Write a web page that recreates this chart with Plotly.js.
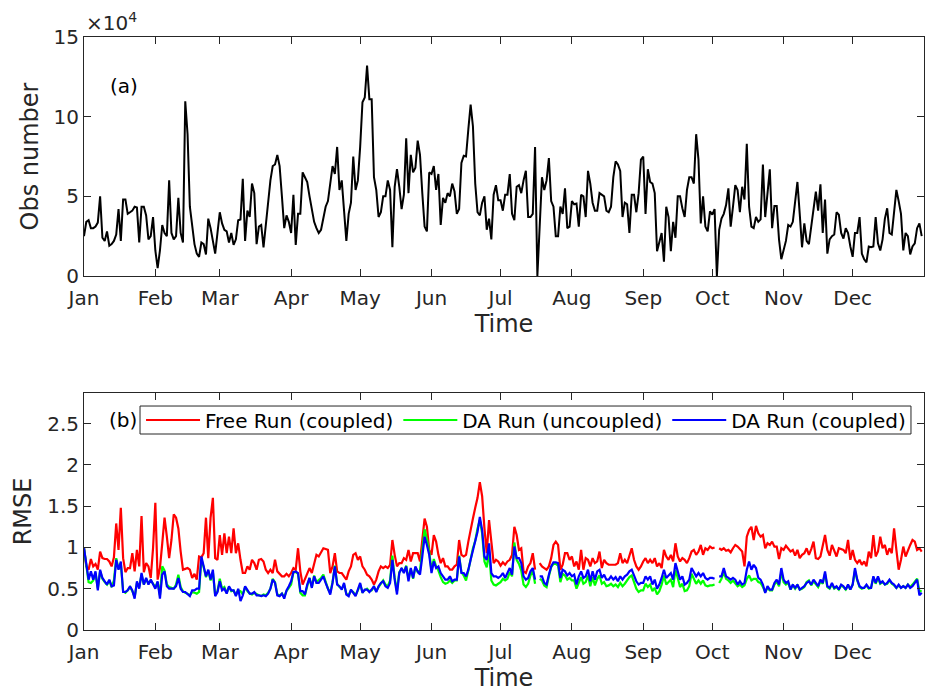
<!DOCTYPE html>
<html>
<head>
<meta charset="utf-8">
<script src="https://cdn.plot.ly/plotly-3.0.1.min.js"></script>
<style>
  html, body { margin: 0; padding: 0; background: #ffffff; }
  #chart { width: 925px; height: 692px; }
</style>
</head>
<body>
<div id="chart"></div>
<script>
// ---------------- data ----------------
const monthLabels = ['Jan','Feb','Mar','Apr','May','Jun','Jul','Aug','Sep','Oct','Nov','Dec'];
const monthStarts = ['2015-01-01','2015-02-01','2015-03-01','2015-04-01','2015-05-01','2015-06-01',
                     '2015-07-01','2015-08-01','2015-09-01','2015-10-01','2015-11-01','2015-12-01'];
const startDate = '2015-01-01';

// Daily observation number (units of 10^4)
const obsNumber = [
2.5,3.4,3.5,3.0,3.0,3.1,3.35,5.0,2.4,2.2,
2.8,1.9,2.0,2.2,2.6,4.2,2.2,4.8,4.8,3.9,
4.0,4.1,4.35,4.3,2.1,4.35,4.35,3.8,2.3,2.5,
3.7,1.6,0.5,1.6,3.2,2.7,2.5,6.0,2.7,2.3,
2.5,4.9,2.7,2.1,10.96,8.9,4.35,3.1,2.0,1.4,
1.2,2.1,2.0,1.35,3.6,3.0,2.05,1.4,2.7,4.0,
3.3,2.9,2.8,2.1,2.7,1.95,2.3,3.5,3.55,6.1,
2.2,4.1,3.7,5.8,5.2,2.0,3.1,3.2,1.8,3.2,
4.5,6.0,6.9,7.0,7.6,6.9,5.0,3.0,3.8,3.4,
2.7,5.1,1.95,3.9,3.9,6.5,6.2,5.9,5.0,4.1,
3.4,3.0,2.7,2.9,3.6,4.35,4.7,5.8,6.9,6.4,
8.1,5.4,6.0,4.1,2.2,3.9,4.6,7.5,5.4,6.0,
8.1,10.9,11.2,13.2,11.1,11.1,6.2,5.4,3.7,4.0,
5.0,5.0,6.0,5.4,1.8,5.6,6.7,5.6,4.2,5.1,
8.65,5.2,7.6,6.5,6.8,8.5,7.6,5.2,3.1,2.8,
6.5,6.4,6.9,5.4,6.4,3.2,4.9,4.6,5.2,5.0,
5.8,5.3,3.9,4.2,7.1,7.55,7.5,9.2,10.75,9.4,
5.8,4.0,3.8,4.6,5.0,2.9,3.6,2.3,5.1,5.7,
4.75,4.75,4.1,5.1,5.1,6.4,3.9,3.5,5.6,5.7,
5.2,6.0,6.6,3.7,3.7,3.9,8.1,0.0,2.7,6.2,
5.4,6.0,7.4,4.7,4.35,2.5,2.5,4.35,3.9,5.5,
3.0,3.1,4.7,4.5,4.55,3.1,5.1,5.0,3.7,6.6,
5.8,4.6,4.1,4.1,5.2,5.1,5.0,4.1,4.0,4.35,
6.2,7.2,7.0,6.6,3.7,4.6,4.5,2.7,5.1,5.1,
4.0,5.2,7.3,7.5,3.9,6.7,5.9,5.8,5.2,1.55,
2.2,2.7,0.9,4.35,3.7,1.55,3.4,2.4,5.0,5.0,
4.25,3.7,5.4,6.2,6.2,5.8,8.9,7.3,3.3,5.0,
3.1,2.8,4.05,3.85,4.2,0.0,2.9,3.6,3.9,4.45,
5.5,3.1,4.35,5.7,5.4,4.0,5.6,4.8,8.3,4.35,
3.1,3.0,3.7,3.4,3.55,7.0,3.7,5.0,6.7,3.0,
4.4,4.4,2.3,1.05,1.6,2.2,3.2,3.1,3.4,4.7,
5.9,3.9,1.8,3.3,2.2,2.0,3.1,4.35,5.3,4.1,
5.75,2.7,4.8,1.4,2.3,2.5,2.6,4.0,3.85,2.7,
2.35,3.0,2.7,1.85,1.2,2.7,2.7,3.7,1.4,1.05,
0.85,1.85,1.8,1.85,3.7,2.05,1.6,2.3,3.6,4.25,
2.7,2.6,4.1,5.4,4.7,3.9,1.6,2.7,2.5,1.35,
1.85,2.05,3.0,3.3,2.5
];

// Daily RMSE, Free Run (coupled)
const rmseFreeRun = [
0.99,0.77,0.73,0.86,0.77,0.80,0.73,0.95,0.87,0.86,
0.86,0.83,0.77,0.88,1.29,0.97,1.48,0.87,0.70,0.75,
0.75,0.93,0.71,0.97,0.77,1.38,0.70,0.81,0.77,0.63,
0.99,1.54,0.61,0.75,1.05,1.36,1.13,0.87,1.09,1.40,
1.36,1.23,0.95,0.73,0.74,0.75,0.73,0.63,0.68,0.61,
0.89,0.88,0.93,1.36,0.87,1.36,1.60,0.87,0.85,1.15,
0.91,1.17,0.93,1.13,0.93,1.23,0.93,1.05,0.85,0.69,
0.69,0.77,0.73,0.85,0.81,0.73,0.85,0.86,0.83,0.73,
0.69,0.73,0.69,0.85,0.71,0.68,0.65,0.65,0.68,0.65,
0.69,0.75,
0.73,0.99,0.71,0.55,0.61,0.69,0.75,0.69,0.79,0.91,
0.89,0.95,0.99,0.98,0.97,0.69,0.77,0.93,0.71,0.69,
0.69,0.65,0.61,0.71,0.77,0.91,0.93,0.85,0.89,0.77,
0.73,0.67,0.65,0.61,0.55,0.61,0.71,0.77,0.75,0.77,
0.75,0.79,1.09,0.91,0.77,0.81,0.81,0.87,0.85,0.97,
0.83,0.93,0.93,0.93,0.83,1.09,1.35,1.25,0.97,0.91,
1.15,1.07,0.91,0.81,0.87,0.77,0.77,0.73,0.73,0.77,
0.79,1.09,0.91,0.89,0.91,1.07,1.23,1.35,1.48,1.60,
1.79,1.62,1.23,0.93,1.33,1.09,0.81,0.85,0.83,0.78,
0.82,
0.79,0.83,0.85,0.91,1.25,1.15,0.97,0.99,0.71,0.69,0.77,0.81,0.93,0.73,
null,
0.81,0.77,0.75,0.73,0.77,0.87,1.03,1.07,1.03,0.73,
0.79,0.93,0.93,0.85,0.89,0.77,0.83,0.73,0.97,0.73,
0.87,0.85,0.77,0.87,0.81,0.83,0.95,0.75,0.85,0.81,
0.79,0.79,0.79,0.79,0.81,0.93,0.81,0.85,0.81,0.91,
0.99,0.85,0.77,0.73,0.77,0.83,0.87,0.81,0.85,0.81,
0.87,0.77,0.81,0.75,0.97,0.89,0.85,0.91,0.83,1.05,
0.89,0.83,0.87,0.85,0.81,0.87,0.95,0.97,0.91,0.95,
1.03,0.91,0.99,0.97,1.01,0.99,
1.00,
null,
0.99,0.97,0.99,0.96,0.97,0.94,0.99,1.03,1.01,0.98,
0.95,0.77,1.13,1.21,1.25,1.09,1.26,1.17,1.13,1.15,
0.99,1.05,1.03,1.07,1.01,1.01,0.86,0.99,0.97,1.02,
0.99,0.95,0.97,0.90,0.97,0.87,0.91,0.93,0.99,0.91,
0.98,1.07,0.87,0.86,0.89,1.02,1.15,0.97,0.90,1.03,
0.97,0.89,0.99,0.98,0.97,0.93,1.09,0.85,0.97,0.85,
0.81,0.85,0.79,0.83,0.77,0.95,0.87,1.15,0.89,0.95,
1.13,0.99,1.03,0.91,0.99,0.93,1.23,0.97,0.73,0.85,
1.01,0.89,0.97,1.03,1.09,1.07,0.97,0.99,
0.95
];

// Daily RMSE, DA Run (uncoupled)
const rmseDAUncoupled = [
0.99,0.75,0.58,0.57,0.60,0.69,0.50,0.71,0.62,0.58,
0.55,0.60,0.52,0.60,0.87,0.74,0.80,0.47,0.45,0.48,
0.52,0.47,0.40,0.57,0.52,0.67,0.55,0.62,0.56,0.60,
0.56,0.52,0.58,0.42,0.77,0.72,0.55,0.52,0.51,0.50,
0.55,0.67,0.52,0.47,0.45,0.44,0.42,0.46,0.45,0.44,
0.46,0.86,0.76,0.64,0.72,0.60,0.70,0.42,0.47,0.62,
0.50,0.52,0.45,0.52,0.47,0.48,0.42,0.48,0.47,0.43,
0.52,0.47,0.44,0.43,0.45,0.43,0.42,0.41,0.43,0.42,
0.45,0.50,0.62,0.58,0.43,0.42,0.44,0.40,0.47,0.51,
0.55,0.70,
0.70,0.68,0.45,0.42,0.42,0.53,0.63,0.52,0.66,0.58,
0.60,0.63,0.67,0.58,0.50,0.45,0.58,0.78,0.56,0.52,
0.50,0.55,0.44,0.42,0.48,0.46,0.42,0.48,0.55,0.46,
0.48,0.50,0.47,0.48,0.52,0.47,0.52,0.56,0.60,0.55,
0.53,0.60,0.90,0.63,0.47,0.70,0.74,0.70,0.78,0.62,
0.74,0.62,0.76,0.70,0.72,0.97,1.22,1.10,0.95,0.72,
0.86,0.77,0.72,0.64,0.58,0.56,0.57,0.60,0.57,0.60,
0.60,0.90,0.70,0.66,0.60,0.72,0.86,0.99,1.08,1.23,
1.33,1.17,0.83,0.76,0.95,0.60,0.55,0.54,0.56,0.58,
0.62,
0.60,0.62,0.70,0.65,1.06,0.85,0.80,0.72,0.55,0.52,0.56,0.66,0.72,0.56,
null,
0.62,0.60,0.54,0.52,0.65,0.76,0.80,0.80,0.78,0.58,
0.68,0.66,0.61,0.63,0.60,0.60,0.50,0.58,0.64,0.56,
0.58,0.66,0.53,0.64,0.54,0.62,0.66,0.56,0.58,0.53,
0.54,0.56,0.53,0.55,0.52,0.57,0.53,0.56,0.60,0.64,
0.66,0.57,0.50,0.46,0.48,0.48,0.56,0.52,0.55,0.47,
0.51,0.43,0.47,0.55,0.66,0.55,0.58,0.61,0.52,0.73,
0.63,0.52,0.56,0.47,0.48,0.53,0.68,0.61,0.56,0.60,
0.56,0.60,0.54,0.53,0.54,0.54,
0.55,
null,
0.57,0.62,0.70,0.62,0.60,0.57,0.60,0.57,0.53,0.55,
0.52,0.54,0.62,0.66,0.60,0.62,0.62,0.58,0.57,0.52,
0.46,0.51,0.48,0.48,0.55,0.59,0.53,0.70,0.58,0.55,
0.57,0.49,0.54,0.50,0.54,0.49,0.50,0.52,0.58,0.60,
0.54,0.59,0.56,0.52,0.59,0.56,0.68,0.52,0.50,0.55,
0.50,0.52,0.49,0.54,0.52,0.49,0.54,0.49,0.55,0.72,
0.60,0.52,0.50,0.51,0.54,0.50,0.51,0.64,0.56,0.63,
0.56,0.58,0.55,0.56,0.60,0.56,0.54,0.51,0.54,0.51,
0.53,0.51,0.55,0.52,0.55,0.59,0.62,0.47,
0.47
];

// Daily RMSE, DA Run (coupled)
const rmseDACoupled = [
0.99,0.77,0.61,0.71,0.61,0.71,0.48,0.73,0.63,0.59,
0.55,0.61,0.53,0.54,0.85,0.73,0.83,0.46,0.46,0.48,
0.53,0.48,0.38,0.59,0.50,0.69,0.55,0.63,0.55,0.61,
0.55,0.50,0.59,0.38,0.67,0.71,0.53,0.50,0.50,0.50,
0.53,0.63,0.50,0.46,0.46,0.44,0.41,0.48,0.48,0.50,
0.50,0.89,0.77,0.65,0.73,0.61,0.73,0.41,0.46,0.59,
0.48,0.50,0.44,0.53,0.48,0.48,0.41,0.50,0.35,0.42,
0.53,0.48,0.44,0.44,0.46,0.42,0.42,0.41,0.42,0.41,
0.44,0.50,0.61,0.57,0.42,0.41,0.44,0.38,0.48,0.53,
0.59,0.70,
0.71,0.69,0.47,0.47,0.43,0.55,0.63,0.51,0.65,0.57,
0.57,0.61,0.65,0.57,0.49,0.43,0.57,0.77,0.55,0.53,
0.49,0.57,0.43,0.41,0.49,0.45,0.41,0.49,0.57,0.45,
0.49,0.49,0.46,0.49,0.53,0.46,0.53,0.57,0.59,0.53,
0.51,0.57,0.85,0.61,0.43,0.69,0.75,0.69,0.77,0.59,
0.75,0.63,0.77,0.71,0.67,0.89,1.13,1.03,0.91,0.69,
0.83,0.75,0.77,0.69,0.65,0.61,0.61,0.65,0.59,0.61,
0.61,0.89,0.69,0.69,0.65,0.73,0.85,0.97,1.05,1.19,
1.37,1.21,0.89,0.85,1.05,0.69,0.65,0.65,0.63,0.65,
0.69,
0.63,0.69,0.75,0.67,1.01,0.87,0.87,0.81,0.65,0.61,0.63,0.71,0.75,0.61,
null,
0.65,0.65,0.57,0.55,0.67,0.77,0.82,0.82,0.81,0.63,
0.73,0.71,0.66,0.69,0.65,0.67,0.55,0.65,0.71,0.63,
0.65,0.73,0.59,0.71,0.61,0.71,0.73,0.63,0.67,0.61,
0.61,0.65,0.61,0.64,0.59,0.65,0.61,0.65,0.67,0.71,
0.73,0.65,0.59,0.55,0.57,0.57,0.65,0.61,0.65,0.55,
0.61,0.50,0.55,0.63,0.73,0.63,0.66,0.69,0.61,0.81,
0.71,0.61,0.65,0.55,0.57,0.61,0.75,0.69,0.65,0.69,
0.65,0.69,0.63,0.61,0.63,0.63,
0.62,
null,
0.65,0.65,0.75,0.65,0.63,0.61,0.63,0.61,0.55,0.59,
0.55,0.57,0.73,0.83,0.73,0.79,0.75,0.63,0.61,0.55,
0.45,0.53,0.49,0.49,0.57,0.61,0.55,0.75,0.61,0.57,
0.59,0.49,0.55,0.51,0.55,0.49,0.51,0.53,0.57,0.59,
0.55,0.61,0.57,0.53,0.61,0.57,0.71,0.53,0.51,0.57,
0.51,0.53,0.49,0.55,0.53,0.49,0.55,0.49,0.55,0.75,
0.61,0.53,0.51,0.51,0.55,0.51,0.51,0.65,0.57,0.65,
0.57,0.59,0.55,0.57,0.61,0.57,0.55,0.51,0.55,0.51,
0.53,0.51,0.55,0.51,0.53,0.57,0.61,0.42,
0.45
];

const seriesNames = ['Free Run (coupled)', 'DA Run (uncoupled)', 'DA Run (coupled)'];
const seriesColors = ['#ff0000', '#00ff00', '#0000ff'];
const obsTicks = [0, 5, 10, 15];
const rmseTicks = [0, 0.5, 1, 1.5, 2, 2.5];
const rmseTickText = ['0', '0.5', '1', '1.5', '2', '2.5'];

// ---------------- build ----------------
function dayDates(n) {
  const out = [];
  const t0 = Date.parse(startDate + 'T00:00:00Z');
  for (let i = 0; i < n; i++) {
    const d = new Date(t0 + i * 86400000);
    out.push(d.toISOString().slice(0, 10));
  }
  return out;
}

const axisColor = '#262626';
const tickFont = { family: 'DejaVu Sans, sans-serif', size: 20, color: axisColor };
const titleFont = { family: 'DejaVu Sans, sans-serif', size: 24, color: axisColor };

const traces = [
  { x: dayDates(obsNumber.length), y: obsNumber, type: 'scatter', mode: 'lines',
    line: { color: '#000000', width: 2 }, xaxis: 'x', yaxis: 'y', showlegend: false, hoverinfo: 'skip' }
];
const rmseSeries = [rmseFreeRun, rmseDAUncoupled, rmseDACoupled];
rmseSeries.forEach((vals, k) => {
  traces.push({ x: dayDates(vals.length), y: vals, type: 'scatter', mode: 'lines', name: seriesNames[k],
    line: { color: seriesColors[k], width: 2.2 }, connectgaps: false,
    xaxis: 'x2', yaxis: 'y2', hoverinfo: 'skip' });
});

function xAxisDef(anchor) {
  return {
    anchor: anchor, domain: [0, 1],
    type: 'date', range: ['2015-01-01', '2016-01-01'],
    tickmode: 'array', tickvals: monthStarts, ticktext: monthLabels,
    ticks: 'inside', ticklen: 7, tickwidth: 1, tickcolor: axisColor,
    mirror: 'allticks', showline: true, linecolor: axisColor, linewidth: 1,
    showgrid: false, zeroline: false, tickfont: tickFont, ticklabelstandoff: 4,
    title: { text: 'Time', font: titleFont, standoff: 6 }
  };
}

const layout = {
  width: 925, height: 692,
  margin: { l: 84, r: 1, t: 37, b: 62 },
  paper_bgcolor: '#ffffff', plot_bgcolor: '#ffffff',
  showlegend: true,
  xaxis: xAxisDef('y'),
  yaxis: {
    anchor: 'x', domain: [0.597, 1], range: [0, 15],
    tickmode: 'array', tickvals: obsTicks,
    ticks: 'inside', ticklen: 7, tickwidth: 1, tickcolor: axisColor,
    mirror: 'allticks', showline: true, linecolor: axisColor, linewidth: 1,
    showgrid: false, zeroline: false, tickfont: tickFont,
    title: { text: 'Obs number', font: titleFont, standoff: 8 }
  },
  xaxis2: xAxisDef('y2'),
  yaxis2: {
    anchor: 'x2', domain: [0, 0.3997], range: [0, 2.87],
    tickmode: 'array', tickvals: rmseTicks, ticktext: rmseTickText,
    ticks: 'inside', ticklen: 7, tickwidth: 1, tickcolor: axisColor,
    mirror: 'allticks', showline: true, linecolor: axisColor, linewidth: 1,
    showgrid: false, zeroline: false, tickfont: tickFont,
    title: { text: 'RMSE', font: titleFont, standoff: 8 }
  },
  legend: {
    orientation: 'h', x: 0.0679, y: 0.3541, xref: 'paper', yref: 'paper',
    xanchor: 'left', yanchor: 'middle',
    bgcolor: 'rgba(0,0,0,0)', borderwidth: 0,
    font: { family: 'DejaVu Sans, sans-serif', size: 20, color: '#000000' },
    itemwidth: 54, tracegroupgap: 0
  },
  shapes: [
    { type: 'rect', xref: 'paper', yref: 'paper', x0: 0.0667, x1: 0.9845, y0: 0.3305, y1: 0.3777,
      line: { color: axisColor, width: 1 }, fillcolor: '#ffffff', layer: 'above' }
  ],
  annotations: [
    { text: '\u00d710<sup>4</sup>', xref: 'paper', yref: 'paper', x: 0, y: 1, xanchor: 'left', yanchor: 'bottom',
      showarrow: false, font: { family: 'DejaVu Sans, sans-serif', size: 20, color: axisColor } },
    { text: '(a)', xref: 'x domain', yref: 'y domain', x: 0.029, y: 0.795, xanchor: 'left', yanchor: 'middle',
      showarrow: false, font: { family: 'DejaVu Sans, sans-serif', size: 20, color: '#000000' } },
    { text: '(b)', xref: 'x2 domain', yref: 'y2 domain', x: 0.027, y: 0.886, xanchor: 'left', yanchor: 'middle',
      showarrow: false, font: { family: 'DejaVu Sans, sans-serif', size: 20, color: '#000000' } }
  ]
};

Plotly.newPlot('chart', traces, layout, { displayModeBar: false, staticPlot: true });
</script>
</body>
</html>
